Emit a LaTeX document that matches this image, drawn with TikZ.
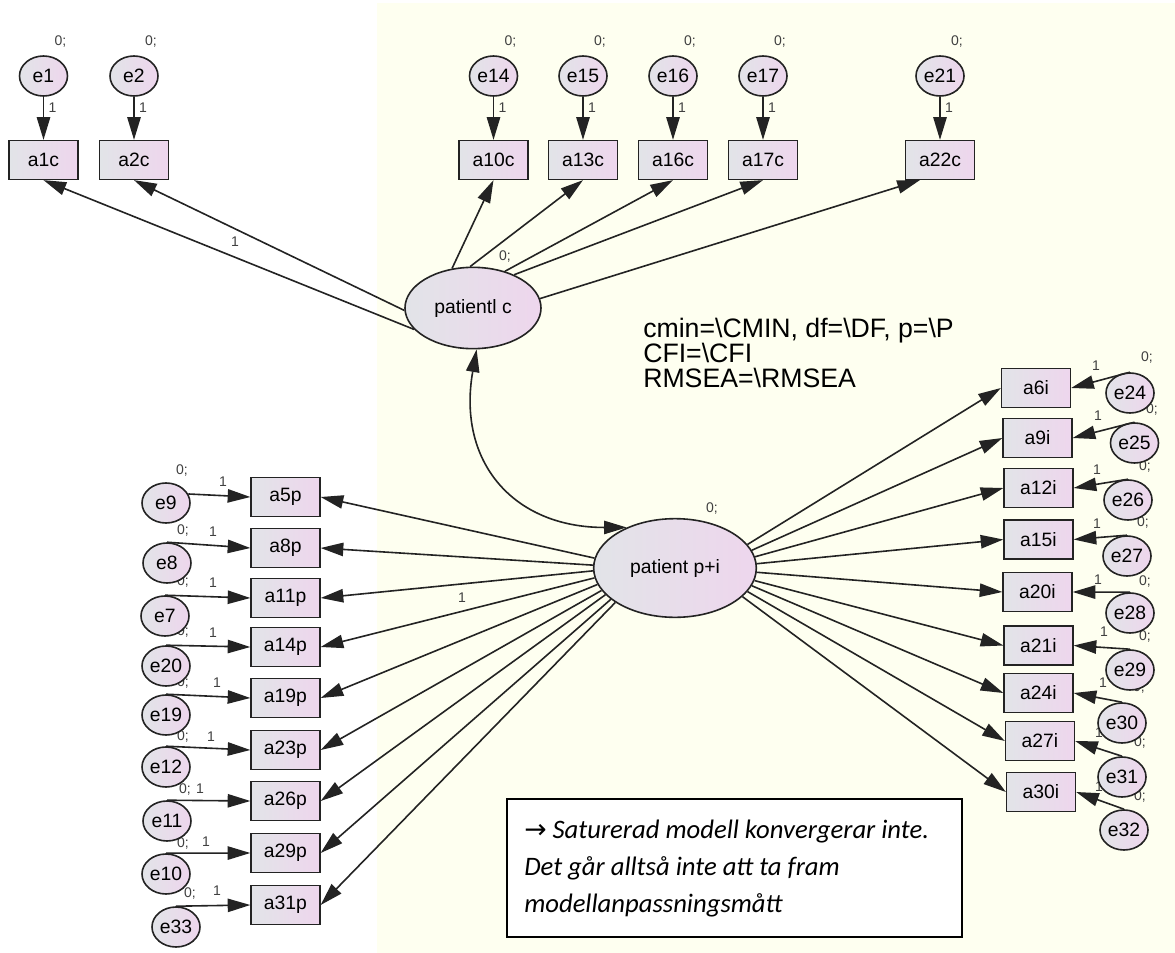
\documentclass[tikz,border=0pt]{standalone}
\usepackage{fontspec}
\setmainfont{Liberation Sans}
\newfontfamily\notefont{Carlito}
\newfontfamily\symfont{DejaVu Sans}
\usetikzlibrary{arrows.meta,shapes.geometric}
\definecolor{amosbg}{RGB}{254,255,240}
\definecolor{varleft}{RGB}{226,228,232}
\definecolor{varright}{RGB}{238,214,237}
\definecolor{edgeline}{RGB}{35,35,35}

\tikzset{
  amosvar/.style={draw=edgeline, line width=1.2pt, left color=varleft, right color=varright,
    inner sep=0pt, font=\fontsize{14.5}{14.5}\selectfont},
  errvar/.style={amosvar, ellipse, minimum width=36pt, minimum height=30pt},
  latvar/.style={amosvar, ellipse},
  obsvar/.style={amosvar, rectangle, minimum width=51.5pt, minimum height=29pt},
  regpath/.style={draw=edgeline, line width=1.2pt, -{Triangle[length=17pt,width=10pt]}},
  covpath/.style={draw=edgeline, line width=1.2pt, {Triangle[length=17pt,width=10pt]}-{Triangle[length=17pt,width=10pt]}},
  parm/.style={inner sep=0pt, text=black!75, font=\fontsize{10.5}{10.5}\selectfont},
  statline/.style={inner sep=0pt, anchor=base west, font=\fontsize{20}{20}\selectfont},
  notetext/.style={inner sep=0pt, anchor=base west, font=\notefont\itshape\fontsize{20}{20}\selectfont},
}

\begin{document}
\begin{tikzpicture}[x=0.75pt,y=-0.75pt]
  \useasboundingbox (0,0) rectangle (1175,953);
  \fill[white] (0,0) rectangle (1175,953);
  \fill[amosbg] (377,3) rectangle (1175,953);

  \node[parm] (zpc) at (505,257) {0;};
  \node[parm] (zpp) at (712,509) {0;};
  \node[parm] (wa1c) at (235,242) {1};
  \node[parm] (wa5p) at (462,598) {1};

  \node[latvar, minimum width=102pt, minimum height=61pt] (pc) at (473,308) {patientl c};
  \node[latvar, minimum width=122pt, minimum height=74pt] (pp) at (675,568) {patient p+i};

  \foreach \er/\ob/\x/\ang/\tgt in {e1/a1c/43.5/200/south, e2/a2c/134/182/south,
      e14/a10c/493.5/118/south, e15/a13c/583/94/south, e16/a16c/673/49/south,
      e17/a17c/763/39/south, e21/a22c/940/8.5/225}
  {
    \node[parm] (z\er) at (\x+17,42) {0;};
    \node[parm] (w\er) at (\x+9,108) {1};
    \node[errvar] (\er) at (\x,76) {\er};
    \node[obsvar] (\ob) at (\x,160) {\ob};
    \draw[regpath] (\er) -- (\ob);
    \draw[regpath] (pc.\ang) -- (\ob.\tgt);
  }

  \foreach \er/\zx/\zy/\wx/\wy in {e9/182/471/223/482, e8/183/531/213/532, e7/183/582/213/583,
      e20/183/632/213/633, e19/183/683/217/683, e12/183/737/211/737, e11/185/789/200/789,
      e10/183/843/206/842, e33/190/893/217/891,
      e24/1147/358/1096/366, e25/1152/410/1098/416, e26/1145/467/1097/470,
      e27/1143/523/1097/524, e28/1145/582/1098/580, e29/1145/637/1104/632,
      e30/1139/688/1103/683, e31/1140/743/1099/733, e32/1140/797/1099/787}
  {
    \node[parm] (z\er) at (\zx,\zy) {0;};
    \node[parm] (w\er) at (\wx,\wy) {1};
  }

  \foreach \er/\ob/\ex/\ey/\oy/\src/\ang in {e9/a5p/166/503/497/22/173.1,
      e8/a8p/167/563/548/north/178, e7/a11p/165/616/598/north/182.9,
      e20/a14p/166/666/647/north/187.7, e19/a19p/166/715/698/north/192.5,
      e12/a23p/166/767/750/north/197.3, e11/a26p/167/821/801/north/201.7,
      e10/a29p/166/874/853/north/206, e33/a31p/176/927/905/north/210}
  {
    \node[errvar] (\er) at (\ex,\ey) {\er};
    \node[obsvar] (\ob) at (285.5,\oy) {\ob};
    \draw[regpath] (\er.\src) -- (\ob.west);
    \draw[regpath] (pp.\ang) -- (\ob.east);
  }

  \foreach \er/\ob/\ex/\ey/\ox/\oy/\ang in {e24/a6i/1130/393/1036/388/18.5,
      e25/a9i/1134.5/443/1037.5/438/13.5, e26/a12i/1128/500/1038.5/488/8.4,
      e27/a15i/1127/556/1038.5/539.5/3, e28/a20i/1130/613/1037.5/592/357.5,
      e29/a21i/1130/670/1038.5/645.5/351.9, e30/a24i/1122/723/1038.5/693/347,
      e31/a27i/1122/777/1040/741/342.4, e32/a30i/1124/830/1041/792/337.7}
  {
    \node[errvar] (\er) at (\ex,\ey) {\er};
    \node[obsvar] (\ob) at (\ox,\oy) {\ob};
    \draw[regpath] (\er.north) -- (\ob.east);
    \draw[regpath] (pp.\ang) -- (\ob.west);
  }

  \draw[covpath] (pc.275) to[out=260, in=180, looseness=1.25] (pp.140);

  \node[statline] (stats1) at (643,337) {cmin=\textbackslash CMIN, df=\textbackslash DF, p=\textbackslash P};
  \node[statline] (stats2) at (643,362) {CFI=\textbackslash CFI};
  \node[statline] (stats3) at (643,387) {RMSEA=\textbackslash RMSEA};

  \node[draw=black, line width=1.2pt, fill=white, anchor=north west, inner sep=0pt,
    minimum width=341.25pt, minimum height=103.5pt] (note) at (506,798) {};
  \node[notetext] (note1) at (524,838) {{\symfont\upshape →} Saturerad modell konvergerar inte.};
  \node[notetext] (note2) at (524,875) {Det går alltså inte att ta fram};
  \node[notetext] (note3) at (524,912) {modellanpassningsmått};
\end{tikzpicture}
\end{document}
